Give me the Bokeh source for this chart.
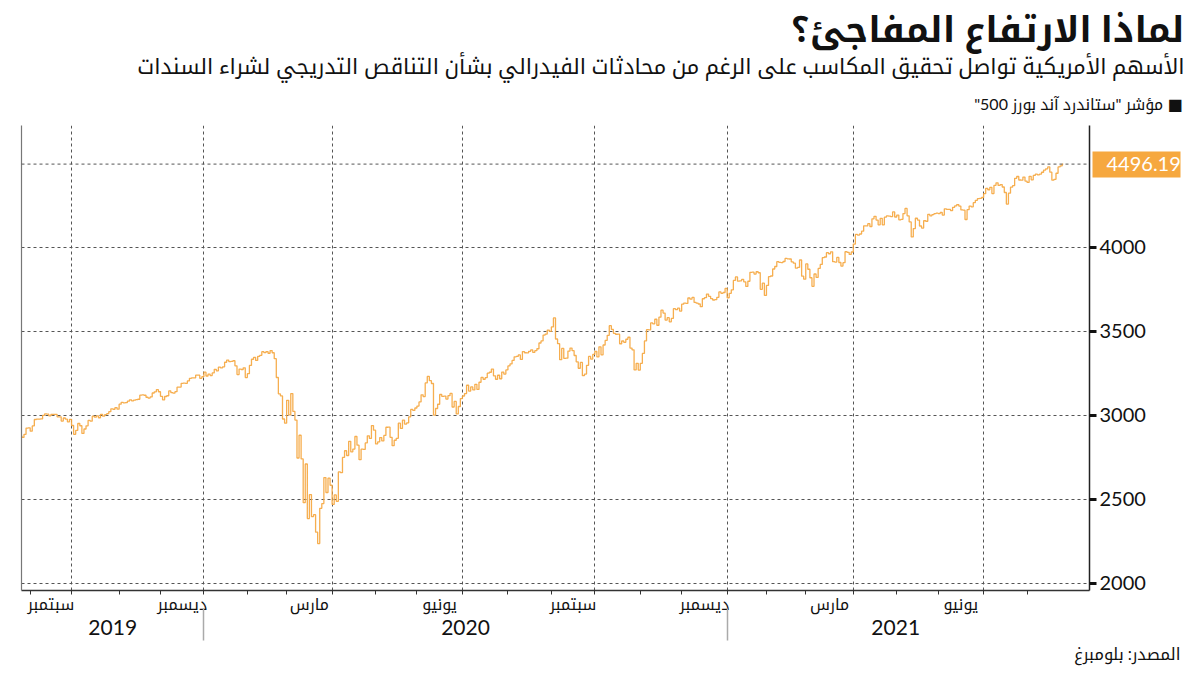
from bokeh.plotting import figure
from bokeh.models import Range1d, LinearAxis, FixedTicker, Span, ColumnDataSource, Title
from bokeh.embed import file_html
from bokeh.resources import INLINE

# ---------------- data (S&P 500 daily closes, Aug 26 2019 - Aug 25 2021) ----------------
close_2019 = [
    2878.4, 2869.2, 2887.9, 2924.6, 2926.5,
    2906.3, 2937.8, 2976.0, 2978.7, 2978.4, 2979.4, 3000.9, 3009.6, 3007.4, 2998.0,
    3005.7, 3006.7, 3006.8, 2992.1, 2991.8, 2966.6, 2984.9, 2977.6, 2961.8, 2976.7,
    2940.3, 2887.6, 2910.6, 2952.0, 2938.8, 2893.1, 2919.4, 2938.1, 2970.3, 2966.2,
    2995.7, 2989.7, 2998.0, 2986.2, 3006.7, 2996.0, 3004.5, 3010.3, 3022.6, 3039.4,
    3036.9, 3046.8, 3037.6,
    3066.9, 3078.3, 3074.6, 3076.8, 3085.2, 3093.1, 3087.0, 3091.8, 3094.0, 3096.6,
    3120.5, 3122.0, 3120.2, 3108.5, 3103.5, 3110.3, 3133.6, 3140.5, 3153.6, 3141.0,
    3113.9, 3093.2, 3112.8, 3117.4, 3145.9, 3136.0, 3132.5, 3141.6, 3168.6, 3168.8,
    3191.5, 3192.5, 3191.1, 3205.4, 3221.2, 3224.0, 3223.4, 3239.9, 3240.0, 3221.3, 3230.8,
]
days_2019 = [5, 20, 23, 20, 21]          # Aug (part), Sep, Oct, Nov, Dec

close_2020 = [
    3257.9, 3234.9, 3246.3, 3237.2, 3253.1, 3274.7, 3265.4, 3288.1, 3283.2, 3289.3,
    3316.8, 3329.6, 3320.8, 3321.8, 3325.5, 3295.5, 3243.6, 3276.2, 3273.4, 3283.7, 3225.5,
    3248.9, 3297.6, 3334.7, 3345.8, 3327.7, 3352.1, 3357.8, 3379.5, 3373.9, 3380.2,
    3370.3, 3386.2, 3373.2, 3337.8, 3225.9, 3128.2, 3116.4, 2978.8, 2954.2,
    3090.2, 3003.4, 3130.1, 3023.9, 2972.4, 2746.6, 2882.2, 2741.4, 2480.6, 2711.0,
    2386.1, 2529.2, 2398.1, 2409.4, 2304.9, 2237.4, 2447.3, 2475.6, 2630.1, 2541.5, 2626.7, 2584.6,
    2470.5, 2526.9, 2488.7, 2663.7, 2659.4, 2750.0, 2789.8, 2761.6, 2846.1, 2783.4,
    2799.6, 2874.6, 2823.2, 2736.6, 2799.3, 2797.8, 2836.7, 2878.5, 2863.4, 2939.5, 2912.4,
    2830.7, 2842.7, 2868.4, 2848.4, 2881.2, 2929.8, 2930.3, 2870.1, 2820.0, 2852.5,
    2863.7, 2953.9, 2922.9, 2971.6, 2948.5, 2955.5, 2991.8, 3036.1, 3029.7, 3044.3,
    3055.7, 3080.8, 3122.9, 3112.4, 3193.9, 3232.4, 3207.2, 3190.1, 3002.1, 3041.3,
    3066.6, 3124.7, 3113.5, 3115.3, 3097.7, 3117.9, 3131.3, 3050.3, 3083.8, 3009.1, 3053.2, 3100.3,
    3115.9, 3130.0, 3179.7, 3145.3, 3169.9, 3152.1, 3185.0, 3155.2, 3197.5, 3226.6,
    3215.6, 3224.7, 3251.8, 3257.3, 3276.0, 3235.7, 3215.6, 3239.4, 3218.4, 3258.4, 3246.2, 3271.1,
    3294.6, 3306.5, 3327.8, 3349.2, 3351.3, 3360.5, 3333.7, 3380.4, 3373.4, 3372.9,
    3382.0, 3389.8, 3374.9, 3385.5, 3397.2, 3431.3, 3443.6, 3478.7, 3484.6, 3508.0, 3500.3,
    3526.7, 3580.8, 3455.1, 3427.0, 3331.8, 3399.0, 3339.2, 3341.0, 3383.5, 3401.2,
    3385.5, 3357.0, 3319.5, 3281.1, 3315.6, 3236.9, 3246.6, 3298.5, 3351.6, 3335.5, 3363.0,
    3380.8, 3348.4, 3408.6, 3361.0, 3419.4, 3446.8, 3477.1, 3534.2, 3511.9, 3488.7,
    3483.3, 3483.8, 3426.9, 3443.1, 3435.6, 3453.5, 3465.4, 3401.0, 3390.7, 3271.0, 3310.1, 3270.0,
    3310.2, 3369.2, 3443.4, 3510.5, 3509.4, 3550.5, 3545.5, 3572.7, 3537.0, 3585.2,
    3626.9, 3609.5, 3567.8, 3581.9, 3557.5, 3577.6, 3635.4, 3629.7, 3638.4, 3621.6,
    3662.5, 3669.0, 3666.7, 3699.1, 3692.0, 3702.3, 3672.8, 3668.1, 3663.5, 3647.5,
    3694.6, 3701.2, 3722.5, 3709.4, 3694.9, 3687.3, 3690.0, 3703.1, 3735.4, 3727.0, 3732.0, 3756.1,
]
days_2020 = [21, 19, 22, 21, 20, 22, 22, 21, 21, 22, 20, 22]

close_2021 = [
    3700.7, 3726.9, 3748.1, 3803.8, 3824.7, 3799.6, 3801.2, 3809.8, 3795.5, 3768.3,
    3798.9, 3851.9, 3853.1, 3841.5, 3855.4, 3849.6, 3750.8, 3787.4, 3714.2,
    3773.9, 3826.3, 3830.2, 3871.7, 3886.8, 3915.6, 3911.2, 3909.9, 3916.4, 3934.8,
    3932.6, 3931.3, 3914.0, 3906.7, 3876.5, 3881.4, 3925.4, 3829.3, 3811.2,
    3901.8, 3870.3, 3819.7, 3768.5, 3841.9, 3821.4, 3875.4, 3898.8, 3939.3, 3943.3,
    3968.9, 3962.7, 3974.1, 3915.5, 3913.1, 3940.6, 3910.5, 3889.1, 3909.5, 3974.5,
    3971.1, 3958.6, 3972.9,
    4019.9, 4077.9, 4073.9, 4080.0, 4097.2, 4128.8, 4128.0, 4141.6, 4124.7, 4170.4,
    4185.5, 4163.3, 4134.9, 4173.4, 4135.0, 4180.2, 4187.6, 4186.7, 4183.2, 4211.5, 4181.2,
    4192.7, 4164.7, 4167.6, 4201.6, 4232.6, 4188.4, 4152.1, 4063.0, 4112.5, 4173.9,
    4163.3, 4127.8, 4115.7, 4159.1, 4155.9, 4197.1, 4188.1, 4196.0, 4200.9, 4204.1,
    4202.0, 4208.1, 4192.9, 4229.9, 4226.5, 4227.3, 4219.6, 4239.2, 4247.4, 4255.2,
    4246.6, 4223.7, 4221.9, 4166.5, 4224.8, 4246.4, 4241.8, 4266.5, 4280.7, 4290.6, 4291.8, 4297.5,
    4319.9, 4352.3, 4343.5, 4358.1, 4320.8, 4369.6, 4384.6, 4369.2, 4374.3, 4360.0,
    4327.2, 4258.5, 4323.1, 4358.7, 4367.5, 4411.8, 4422.3, 4401.5, 4400.6, 4419.2, 4395.3,
    4387.2, 4423.2, 4402.7, 4429.1, 4436.5, 4432.4, 4436.8, 4447.7, 4460.8, 4468.0,
    4479.7, 4448.1, 4400.3, 4405.8, 4441.7, 4479.5, 4486.2, 4496.19,
]
days_2021 = [19, 19, 23, 21, 20, 22, 21, 18]

month_names = {(2019, 9): "سبتمبر", (2019, 12): "ديسمبر", (2020, 3): "مارس", (2020, 6): "يونيو",
               (2020, 9): "سبتمبر", (2020, 12): "ديسمبر", (2021, 3): "مارس", (2021, 6): "يونيو"}
years = ["2019", "2020", "2021"]
y_major = [2000, 2500, 3000, 3500, 4000]

title_text = "لماذا الارتفاع المفاجئ؟"
subtitle_text = "الأسهم الأمريكية تواصل تحقيق المكاسب على الرغم من محادثات الفيدرالي بشأن التناقص التدريجي لشراء السندات"
legend_text = 'مؤشر "ستاندرد آند بورز 500"'
source_text = "المصدر: بلومبرغ"

# ---------------- derived structure ----------------
RLM = "\u200f"
AR_FONT = "Lato, Noto Kufi Arabic, Noto Sans Arabic, DejaVu Sans"
NUM_FONT = "Lato"
ORANGE = "#F6A83F"
LINE_ORANGE = "#F5A53C"
GRID = "#555555"

closes = close_2019 + close_2020 + close_2021
xs = list(range(len(closes)))

months = []  # (year, month, start_idx, count)
idx = 0
for yr, counts, m0 in [(2019, days_2019, 8), (2020, days_2020, 1), (2021, days_2021, 1)]:
    for k, c in enumerate(counts):
        months.append((yr, m0 + k, idx, c))
        idx += c

x_start, x_end = 0.3, 516.7
month_bounds = [s - 0.5 for (_, _, s, _) in months[1:]]
quarter_bounds = [s - 0.5 for (yr, m, s, _) in months if m in (1, 4, 7, 10) and s > 0]
label_centers, label_over = [], {}
for yr, m, s, c in months:
    if (yr, m) in month_names:
        ctr = s + (c - 1) / 2.0
        label_centers.append(ctr)
        label_over[ctr] = RLM + month_names[(yr, m)] + RLM

year_first, year_last = {}, {}
for yr, m, s, c in months:
    year_first.setdefault(yr, s)
    year_last[yr] = s + c - 1
year_centers, year_over, year_bounds = [], {}, []
for y in years:
    yi = int(y)
    lo = max(x_start, year_first[yi] - 0.5)
    hi = min(x_end, year_last[yi] + 0.5)
    ctr = (lo + hi) / 2.0
    year_centers.append(ctr)
    year_over[ctr] = y
    if year_first[yi] > 0:
        year_bounds.append(year_first[yi] - 0.5)

last_close = closes[-1]

# ---------------- figure ----------------
p = figure(width=1200, height=675, x_range=Range1d(x_start, x_end), y_range=Range1d(1958, 4726),
           y_axis_location="right", output_backend="svg", toolbar_location=None,
           min_border_left=21, min_border_right=111, min_border_top=125, min_border_bottom=85,
           outline_line_color=None, background_fill_color="white", border_fill_color="white")

src = ColumnDataSource(dict(x=xs, close=closes))
p.step(x="x", y="close", source=src, mode="center", line_color=LINE_ORANGE, line_width=1.3, line_alpha=0.9)

# grids
p.xgrid.ticker = FixedTicker(ticks=quarter_bounds)
p.xgrid.grid_line_color = GRID
p.xgrid.grid_line_dash = "3 3"
p.ygrid.ticker = FixedTicker(ticks=y_major)
p.ygrid.grid_line_color = GRID
p.ygrid.grid_line_dash = "3 3"
p.add_layout(Span(location=last_close, dimension="width", line_color=GRID, line_dash="3 3", line_width=1))

# right y axis
ya = p.yaxis[0]
ya.ticker = FixedTicker(ticks=y_major)
ya.axis_line_color = "#222222"
ya.axis_line_width = 1.5
ya.major_tick_out = 7
ya.major_tick_in = 0
ya.major_tick_line_width = 3
ya.major_tick_line_color = "#111111"
ya.minor_tick_out = 0
ya.minor_tick_in = 0
ya.minor_tick_line_color = None
ya.major_label_text_font = NUM_FONT
ya.major_label_text_font_size = "20px"
ya.major_label_text_color = "#111111"
ya.major_label_standoff = 3

# value tag: orange bar = the tick of a second right axis, white label on it
tag_axis = LinearAxis(ticker=FixedTicker(ticks=[last_close]),
                      major_label_overrides={last_close: f"{last_close:.2f}"},
                      axis_line_color=None, minor_tick_line_color=None,
                      major_tick_out=32, major_tick_in=56, major_tick_line_width=26,
                      major_tick_line_color=ORANGE, minor_tick_out=0, minor_tick_in=0,
                      major_label_text_font=NUM_FONT, major_label_text_font_size="20px",
                      major_label_text_color="white", major_label_standoff=-74)
p.add_layout(tag_axis, "right")

# left border line
la = LinearAxis(ticker=FixedTicker(ticks=[]), major_label_text_font_size="0px",
                axis_line_color="#777777", axis_line_width=1.2,
                major_tick_line_color=None, minor_tick_line_color=None)
p.add_layout(la, "left")

# bottom month axis
xa = p.xaxis[0]
xa.ticker = FixedTicker(ticks=label_centers, minor_ticks=month_bounds)
xa.major_label_overrides = label_over
xa.major_tick_line_color = None
xa.major_tick_out = 4
xa.minor_tick_out = 4
xa.minor_tick_in = 0
xa.minor_tick_line_color = "#333333"
xa.axis_line_color = "#333333"
xa.axis_line_width = 1.5
xa.major_label_text_font = AR_FONT
xa.major_label_text_font_size = "16px"
xa.major_label_text_color = "#111111"
xa.major_label_standoff = -1

# year axis
yax = LinearAxis(ticker=FixedTicker(ticks=year_centers, minor_ticks=year_bounds),
                 major_label_overrides=year_over, axis_line_color=None,
                 major_tick_line_color=None, major_tick_out=0, major_tick_in=0,
                 minor_tick_out=25, minor_tick_in=7,
                 minor_tick_line_color="#AAAAAA", minor_tick_line_width=1.5,
                 major_label_text_font=NUM_FONT, major_label_text_font_size="21px",
                 major_label_text_color="#111111", major_label_standoff=-21)
p.add_layout(yax, "below")

# source (below, farthest)
p.add_layout(Title(text=RLM + source_text + RLM, align="right", offset=-91, standoff=8,
                   text_font=AR_FONT, text_font_size="16.5px", text_font_style="normal",
                   text_color="#111111"), "below")

# header titles (closest to frame first)
p.add_layout(Title(text=RLM + "\u25A0 " + legend_text + RLM, align="right", offset=-93, standoff=25,
                   text_font=AR_FONT, text_font_size="16px", text_font_style="normal",
                   text_color="#111111"), "above")
p.add_layout(Title(text=RLM + subtitle_text + RLM, align="right", offset=-95, standoff=2,
                   text_font=AR_FONT, text_font_size="21.7px", text_font_style="normal",
                   text_color="#111111"), "above")
p.add_layout(Title(text=RLM + title_text + RLM, align="right", offset=-95, standoff=0,
                   text_font=AR_FONT, text_font_size="36px", text_font_style="bold",
                   text_color="#111111"), "above")

open("out.html", "w").write(file_html(p, INLINE))
